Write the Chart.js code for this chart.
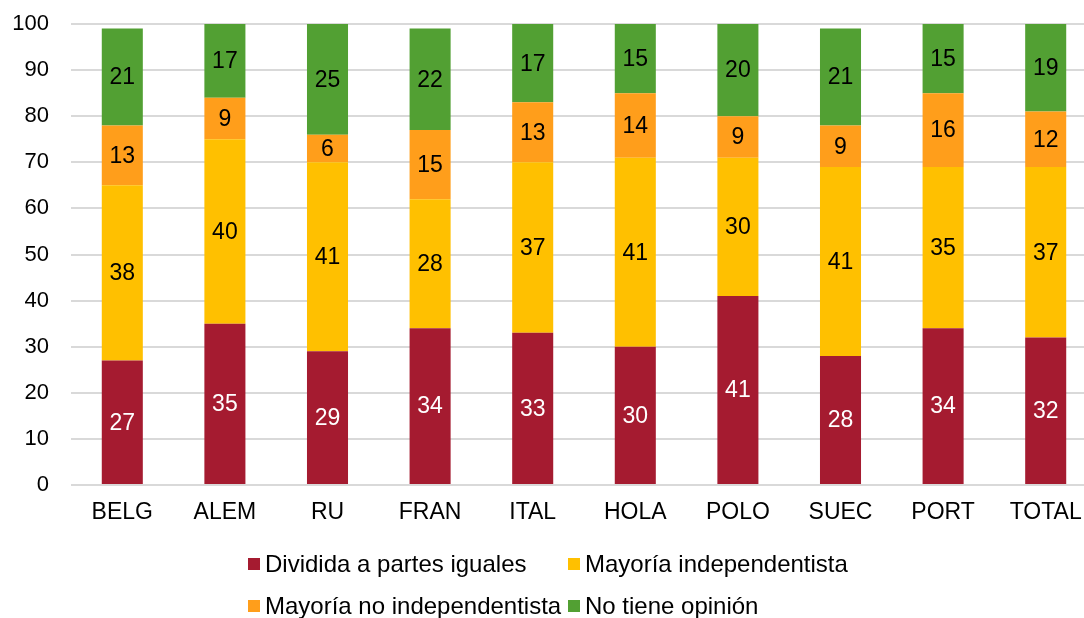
<!DOCTYPE html>
<html>
<head>
<meta charset="utf-8">
<script src="https://cdn.jsdelivr.net/npm/chart.js@4"></script>
<style>
  html, body { margin: 0; background: #fff; overflow: hidden; }
  #wrap { width: 1084px; height: 618px; overflow: hidden; }
  canvas { display: block; }
</style>
</head>
<body>
<div id="wrap">
  <!-- the plot runs a little past the right edge of the visible page -->
  <canvas id="chart" width="1097" height="618"></canvas>
</div>
<script>
const countries = ["BELG", "ALEM", "RU", "FRAN", "ITAL", "HOLA", "POLO", "SUEC", "PORT", "TOTAL"];
const dividida = [27, 35, 29, 34, 33, 30, 41, 28, 34, 32];
const mayoriaIndep = [38, 40, 41, 28, 37, 41, 30, 41, 35, 37];
const mayoriaNoIndep = [13, 9, 6, 15, 13, 14, 9, 9, 16, 12];
const sinOpinion = [21, 17, 25, 22, 17, 15, 20, 21, 15, 19];
const seriesNames = ["Dividida a partes iguales", "Mayoría independentista", "Mayoría no independentista", "No tiene opinión"];
const yTicks = [0, 10, 20, 30, 40, 50, 60, 70, 80, 90, 100];

const colors = ["#A51B30", "#FFC000", "#FF9E1B", "#52A033"];
const labelColors = ["#ffffff", "#000000", "#000000", "#000000"];
const FONT = "'Liberation Sans', Arial, sans-serif";

// value labels centred inside each stacked segment
const segmentLabels = {
  id: "segmentLabels",
  afterDatasetsDraw(chart) {
    const ctx = chart.ctx;
    ctx.save();
    ctx.font = "23px " + FONT;
    ctx.textAlign = "center";
    ctx.textBaseline = "middle";
    chart.data.datasets.forEach((ds, i) => {
      const meta = chart.getDatasetMeta(i);
      meta.data.forEach((bar, j) => {
        const top = Math.max(bar.y, chart.chartArea.top);
        const mid = (top + bar.base) / 2;
        ctx.fillStyle = labelColors[i];
        ctx.fillText(ds.data[j], bar.x, mid + 1);
      });
    });
    ctx.restore();
  },
};

// two-column legend under the axis
const gridLegend = {
  id: "gridLegend",
  afterDraw(chart) {
    const ctx = chart.ctx;
    const colX = [248, 568];
    const rowY = [564, 606];
    ctx.save();
    ctx.font = "24px " + FONT;
    ctx.textBaseline = "middle";
    ctx.textAlign = "left";
    seriesNames.forEach((name, i) => {
      const x = colX[i % 2];
      const y = rowY[Math.floor(i / 2)];
      ctx.fillStyle = colors[i];
      ctx.fillRect(x, y - 6, 12, 12);
      ctx.fillStyle = "#000";
      ctx.fillText(name, x + 17, y + 1);
    });
    ctx.restore();
  },
};

const seriesData = [dividida, mayoriaIndep, mayoriaNoIndep, sinOpinion];

new Chart(document.getElementById("chart"), {
  type: "bar",
  data: {
    labels: countries,
    datasets: seriesData.map((values, i) => ({
      label: seriesNames[i],
      data: values,
      backgroundColor: colors[i],
      borderWidth: 0,
      barPercentage: 0.4,
      categoryPercentage: 1,
    })),
  },
  options: {
    responsive: false,
    animation: false,
    layout: { padding: { top: 24, right: 0, left: 0, bottom: 0 } },
    plugins: {
      legend: { display: false },
      tooltip: { enabled: false },
    },
    scales: {
      x: {
        stacked: true,
        grid: { display: false, drawTicks: false },
        border: { display: false },
        ticks: {
          color: "#000",
          font: { family: FONT, size: 23 },
          padding: 14,
          maxRotation: 0,
        },
        afterFit(scale) {
          scale.height = 133;
          scale.paddingLeft = 0;
          scale.paddingRight = 0;
        },
      },
      y: {
        stacked: true,
        min: 0,
        max: 100,
        afterBuildTicks(scale) {
          scale.ticks = yTicks.map((v) => ({ value: v }));
        },
        grid: { color: "#d9d9d9", lineWidth: 2, drawTicks: false },
        border: { display: false },
        ticks: {
          color: "#000",
          font: { family: FONT, size: 22 },
          padding: 22,
        },
        afterFit(scale) {
          scale.width = 71;
          scale.paddingTop = 0;
          scale.paddingBottom = 0;
        },
      },
    },
  },
  plugins: [segmentLabels, gridLegend],
});
</script>
</body>
</html>
